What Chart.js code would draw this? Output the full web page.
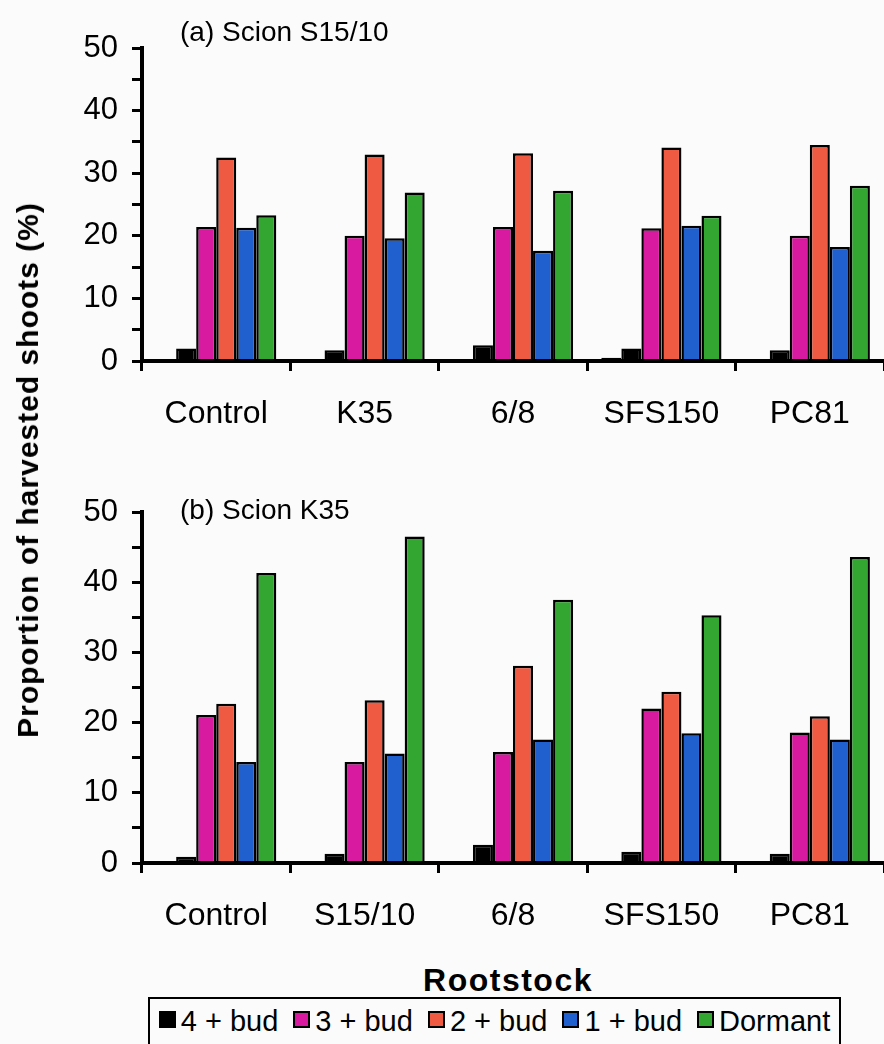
<!DOCTYPE html>
<html>
<head>
<meta charset="utf-8">
<title>Proportion of harvested shoots by rootstock</title>
<script src="https://cdn.jsdelivr.net/npm/chart.js@4.4.0/dist/chart.umd.min.js"></script>
<style>
    html, body { margin: 0; padding: 0; background: #fbfbfc; overflow: hidden; }
    body { width: 884px; height: 1044px; position: relative; font-family: "Liberation Sans", Arial, sans-serif; color: #000; }
    .panel { position: absolute; left: 0; }
    #panelA { top: 0; }
    #panelB { top: 470px; }
    .panel-title { position: absolute; left: 180px; font-size: 28px; line-height: 28px; white-space: nowrap; }
    #titleA { top: 18px; }
    #titleB { top: 496px; }
    #yTitle { position: absolute; left: 28px; top: 470px; transform: translate(-50%, -50%) rotate(-90deg);
              font-weight: bold; font-size: 30px; letter-spacing: 1px; white-space: nowrap; }
    #xTitle { position: absolute; left: 508px; top: 980px; transform: translate(-50%, -50%);
              font-weight: bold; font-size: 32px; letter-spacing: 1.5px; white-space: nowrap; }
    #legend { position: absolute; left: 148px; top: 997px; width: 693px; height: 70px; border: 2px solid #000;
              display: flex; justify-content: center; gap: 15px; padding-top: 6px; box-sizing: border-box; }
    .item { display: flex; align-items: flex-start; font-size: 29px; line-height: 32px; white-space: nowrap; }
    .swatch { width: 13px; height: 13px; border: 2px solid #000; margin: 6px 5px 0 0; }
</style>
</head>
<body>
<canvas id="panelA" class="panel" width="884" height="440"></canvas>
<canvas id="panelB" class="panel" width="884" height="480"></canvas>
<div id="titleA" class="panel-title">(a) Scion S15/10</div>
<div id="titleB" class="panel-title">(b) Scion K35</div>
<div id="yTitle">Proportion of harvested shoots (%)</div>
<div id="xTitle">Rootstock</div>
<div id="legend"></div>

<script>
// 系列名称和颜色（第一个槽位几乎为零，不在图例中显示）
const seriesLabels = ['Other', '4 + bud', '3 + bud', '2 + bud', '1 + bud', 'Dormant'];
const seriesColors = ['#000000', '#000000', '#d81aa0', '#ee5a42', '#1f5fce', '#33a632'];

// (a) Scion S15/10
const categoriesA = ['Control', 'K35', '6/8', 'SFS150', 'PC81'];
const otherA   = [0.2, 0.3, 0.2, 0.5, 0.3];
const bud4A    = [2.0, 1.7, 2.5, 2.0, 1.7];
const bud3A    = [21.4, 20.0, 21.4, 21.2, 20.0];
const bud2A    = [32.5, 33.0, 33.2, 34.1, 34.5];
const bud1A    = [21.3, 19.6, 17.6, 21.6, 18.2];
const dormantA = [23.3, 26.9, 27.2, 23.2, 28.0];

// (b) Scion K35
const categoriesB = ['Control', 'S15/10', '6/8', 'SFS150', 'PC81'];
const otherB   = [0.2, 0.2, 0.1, 0.1, 0.1];
const bud4B    = [0.9, 1.3, 2.6, 1.6, 1.3];
const bud3B    = [21.1, 14.4, 15.8, 22.0, 18.6];
const bud2B    = [22.7, 23.2, 28.1, 24.4, 20.9];
const bud1B    = [14.4, 15.6, 17.6, 18.5, 17.6];
const dormantB = [41.3, 46.5, 37.5, 35.3, 43.6];

// y 轴刻度：每 5 一个刻度，只在 10 的倍数处标数字
const yMin = 0;
const yMax = 50;
const yStep = 5;

const FONT = '"Liberation Sans", Arial, sans-serif';

function makeChart(canvasId, labels, seriesData, topPad, xHeight) {
    const ctx = document.getElementById(canvasId);
    return new Chart(ctx, {
        type: 'bar',
        data: {
            labels: labels,
            datasets: seriesData.map((values, i) => ({
                label: seriesLabels[i],
                data: values,
                backgroundColor: seriesColors[i],
                borderColor: '#000',
                borderWidth: 2.5,
                categoryPercentage: 0.81,
                barPercentage: 1.0
            }))
        },
        options: {
            responsive: false,
            animation: false,
            devicePixelRatio: 1,
            layout: { padding: { top: topPad, right: 0, bottom: 0, left: 0 } },
            plugins: {
                legend: { display: false },
                tooltip: { enabled: false }
            },
            scales: {
                x: {
                    afterFit: (s) => { s.height = xHeight; },
                    grid: {
                        offset: true,
                        drawOnChartArea: false,
                        drawTicks: true,
                        tickLength: 10,
                        tickWidth: 3,
                        tickColor: '#000'
                    },
                    border: { color: '#000', width: 4, z: 1 },
                    ticks: {
                        color: '#000',
                        font: { family: FONT, size: 32 },
                        padding: 24,
                        maxRotation: 0,
                        autoSkip: false
                    }
                },
                y: {
                    min: yMin,
                    max: yMax,
                    afterFit: (s) => { s.width = 142; },
                    grid: {
                        drawOnChartArea: false,
                        drawTicks: true,
                        tickLength: 10,
                        tickWidth: 3,
                        tickColor: '#000'
                    },
                    border: { color: '#000', width: 4, z: 1 },
                    ticks: {
                        stepSize: yStep,
                        autoSkip: false,
                        color: '#000',
                        font: { family: FONT, size: 31 },
                        padding: 14,
                        callback: (v) => (v % 10 === 0 ? v : '')
                    }
                }
            }
        }
    });
}

makeChart('panelA', categoriesA, [otherA, bud4A, bud3A, bud2A, bud1A, dormantA], 48, 440 - 361);
makeChart('panelB', categoriesB, [otherB, bud4B, bud3B, bud2B, bud1B, dormantB], 42, 480 - 393);

// 图例（跳过第一个槽位）
const legendEl = document.getElementById('legend');
seriesLabels.slice(1).forEach((name, i) => {
    const item = document.createElement('div');
    item.className = 'item';
    const sw = document.createElement('span');
    sw.className = 'swatch';
    sw.style.background = seriesColors[i + 1];
    item.appendChild(sw);
    item.appendChild(document.createTextNode(name));
    legendEl.appendChild(item);
});
</script>
</body>
</html>
